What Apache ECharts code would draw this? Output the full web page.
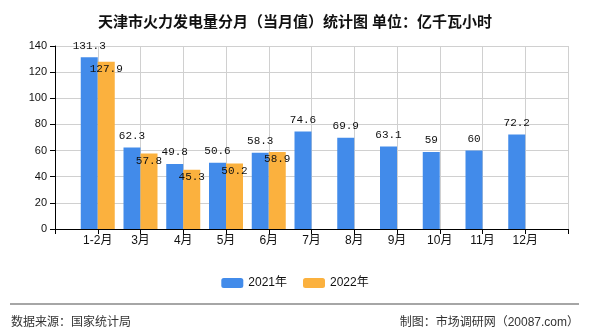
<!DOCTYPE html>
<html><head><meta charset="utf-8">
<script src="https://cdn.jsdelivr.net/npm/echarts@6/dist/echarts.min.js"></script>
<style>html,body{margin:0;padding:0;background:#fff}#c{width:590px;height:330px}</style>
</head><body><div id="c"></div>
<script>
var categories = ['', '1-2月', '3月', '4月', '5月', '6月', '7月', '8月', '9月', '10月', '11月', '12月', ''];
var series2021 = [null, 131.3, 62.3, 49.8, 50.6, 58.3, 74.6, 69.9, 63.1, 59, 60, 72.2, null];
var series2022 = [null, 127.9, 57.8, 45.3, 50.2, 58.9, null, null, null, null, null, null, null];
var yTicks = [0, 20, 40, 60, 80, 100, 120, 140];

var chart = echarts.init(document.getElementById('c'), null, {renderer: 'canvas'});
var cjk = '"Liberation Sans","Noto Sans CJK SC",sans-serif';
var mono = '"Liberation Mono","Noto Sans CJK SC",monospace';
chart.setOption({
  animation: false,
  backgroundColor: '#fff',
  title: {
    text: '天津市火力发电量分月（当月值）统计图 单位：亿千瓦小时',
    left: 'center', top: 10,
    textStyle: {fontSize: 15, fontWeight: 'bold', color: '#111', fontFamily: cjk}
  },
  legend: {
    data: ['2021年', '2022年'],
    left: 'center', top: 272,
    itemWidth: 22, itemHeight: 10, itemGap: 16,
    textStyle: {fontSize: 12, color: '#111', fontFamily: cjk}
  },
  grid: {left: 55, right: 22, top: 46, bottom: 101},
  xAxis: {
    type: 'category', data: categories, boundaryGap: false,
    axisLine: {lineStyle: {color: '#000', width: 1}},
    axisTick: {show: true, length: 5, lineStyle: {color: '#000'}, interval: 0},
    axisLabel: {color: '#111', fontSize: 12, fontFamily: cjk, margin: 6, interval: 0},
    splitLine: {show: true, lineStyle: {color: '#d0d0d0'}}
  },
  yAxis: {
    type: 'value', min: yTicks[0], max: yTicks[yTicks.length - 1], interval: 20,
    axisLine: {show: true, lineStyle: {color: '#000'}},
    axisTick: {show: true, length: 5, lineStyle: {color: '#000'}},
    axisLabel: {color: '#111', fontSize: 11, fontFamily: cjk, margin: 8},
    splitLine: {lineStyle: {color: '#d0d0d0'}}
  },
  series: [
    {
      name: '2021年', type: 'bar', data: series2021, barWidth: 17, barGap: '0%',
      itemStyle: {color: '#428BEA'},
      label: {show: true, position: 'top', distance: 6, color: '#111', fontSize: 11, fontFamily: mono}
    },
    {
      name: '2022年', type: 'bar', data: series2022, barWidth: 17, barGap: '0%',
      itemStyle: {color: '#FBB13E'},
      label: {show: true, position: 'insideTop', distance: 2, color: '#111', fontSize: 11, fontFamily: mono}
    }
  ],
  graphic: [
    {type: 'line', shape: {x1: 10, y1: 304, x2: 579, y2: 304}, style: {stroke: '#888', lineWidth: 1.5}},
    {type: 'text', left: 11, top: 317, style: {text: '数据来源：国家统计局', fontSize: 12, fill: '#333', fontFamily: cjk}},
    {type: 'text', right: 11, top: 317, style: {text: '制图：市场调研网（20087.com）', fontSize: 12, fill: '#333', fontFamily: cjk}}
  ]
});
</script></body></html>
